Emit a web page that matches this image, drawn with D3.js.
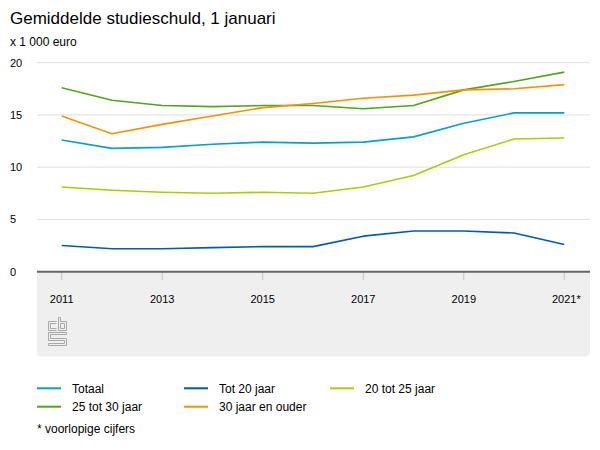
<!DOCTYPE html>
<html><head><meta charset="utf-8">
<script src="https://cdn.jsdelivr.net/npm/d3@7"></script>
<style>body{margin:0;background:#fff;} svg{display:block;font-family:"Liberation Sans",Arial,Helvetica,sans-serif;}</style>
</head><body>
<script>
const years = [2011,2012,2013,2014,2015,2016,2017,2018,2019,2020,2021];
const tickYears = [2011,2013,2015,2017,2019,2021];
const tickLabels = ["2011","2013","2015","2017","2019","2021*"];
const yTicks = [0,5,10,15,20];
const seriesNames = ["Totaal","Tot 20 jaar","20 tot 25 jaar","25 tot 30 jaar","30 jaar en ouder"];
const totaal   = [12.6,11.8,11.9,12.2,12.4,12.3,12.4,12.9,14.2,15.2,15.2];
const tot20    = [2.5,2.2,2.2,2.3,2.4,2.4,3.4,3.9,3.9,3.7,2.6];
const tot25    = [8.1,7.8,7.6,7.5,7.6,7.5,8.1,9.2,11.2,12.7,12.8];
const tot30    = [17.6,16.4,15.9,15.8,15.9,15.9,15.6,15.9,17.4,18.2,19.1];
const ouder30  = [14.9,13.2,14.1,14.9,15.7,16.1,16.6,16.9,17.4,17.5,17.9];
const colors = ["#00a1cd","#0058b8","#afcb05","#53a31d","#f39200"];
const seriesData = [totaal,tot20,tot25,tot30,ouder30];

const W=600,H=450;
const svg=d3.select("body").append("svg").attr("width",W).attr("height",H);
const x=d3.scaleLinear().domain([2011,2021]).range([61.7,564.3]);
const y=d3.scaleLinear().domain([0,20]).range([271.7,62.7]);
const left=37,right=590;

svg.append("text").attr("x",10).attr("y",24).attr("font-size",17).attr("fill","#000").text("Gemiddelde studieschuld, 1 januari");
svg.append("text").attr("x",10).attr("y",46).attr("font-size",12).attr("fill","#000").text("x 1 000 euro");

// grey band
svg.append("path").attr("fill","#efefef")
  .attr("d",`M${left},272 H${right} V${351.7} Q${right},356.7 ${right-5},356.7 H${left+5} Q${left},356.7 ${left},351.7 Z`);

// gridlines
svg.selectAll(".grid").data(yTicks.filter(d=>d>0)).join("line")
  .attr("x1",left).attr("x2",right).attr("y1",d=>y(d)).attr("y2",d=>y(d))
  .attr("stroke","#dedede").attr("stroke-width",1);
svg.selectAll(".ylab").data(yTicks).join("text")
  .attr("x",10).attr("y",d=>y(d)+4).attr("font-size",11).attr("fill","#000").text(d=>d);

// x ticks
svg.selectAll(".xt").data(tickYears).join("line")
  .attr("x1",d=>x(d)).attr("x2",d=>x(d)).attr("y1",272).attr("y2",280)
  .attr("stroke","#c4c4c4").attr("stroke-width",1);
svg.selectAll(".xl").data(tickYears).join("text")
  .attr("x",d=>x(d)+(d===2021?2:0)).attr("y",303).attr("text-anchor","middle")
  .attr("font-size",11).attr("fill","#000").text((d,i)=>tickLabels[i]);

// axis line
svg.append("line").attr("x1",left).attr("x2",right).attr("y1",y(0)).attr("y2",y(0))
  .attr("stroke","#666").attr("stroke-width",2);

// lines
const line=d3.line().x((d,i)=>x(years[i])).y(d=>y(d));
seriesData.forEach((s,k)=>{
  svg.append("path").datum(s).attr("d",line).attr("fill","none")
    .attr("stroke",colors[k]).attr("stroke-width",1.6).attr("stroke-linejoin","round");
});

// cbs logo
const lg=svg.append("g").attr("transform","translate(48.5,317.5)").attr("fill","none").attr("stroke","#a8a8a8").attr("stroke-width",1);
lg.append("path").attr("d","M0,4 H8 M0,4 V13 H8 M2,6 H8 M2,6 V11 H8");
lg.append("path").attr("d","M10,0 V13 H18 V4 H12 V0 Z M12,6 H16 V11 H12 Z");
lg.append("path").attr("d","M0,15 H18 V17 H2 V21 H18 V28 H0 V26 H16 V23 H0 Z");

// legend
const lx=[37,184,330], rowY=[388.3,406.7];
seriesNames.forEach((n,i)=>{
  const c=i%3, r=Math.floor(i/3);
  svg.append("line").attr("x1",lx[c]).attr("x2",lx[c]+24).attr("y1",rowY[r]).attr("y2",rowY[r])
    .attr("stroke",colors[i]).attr("stroke-width",2);
  svg.append("text").attr("x",lx[c]+35).attr("y",rowY[r]+4.3).attr("font-size",12).attr("fill","#000").text(n);
});
svg.append("text").attr("x",37).attr("y",432.5).attr("font-size",12).attr("fill","#000").text("* voorlopige cijfers");
</script>
</body></html>
